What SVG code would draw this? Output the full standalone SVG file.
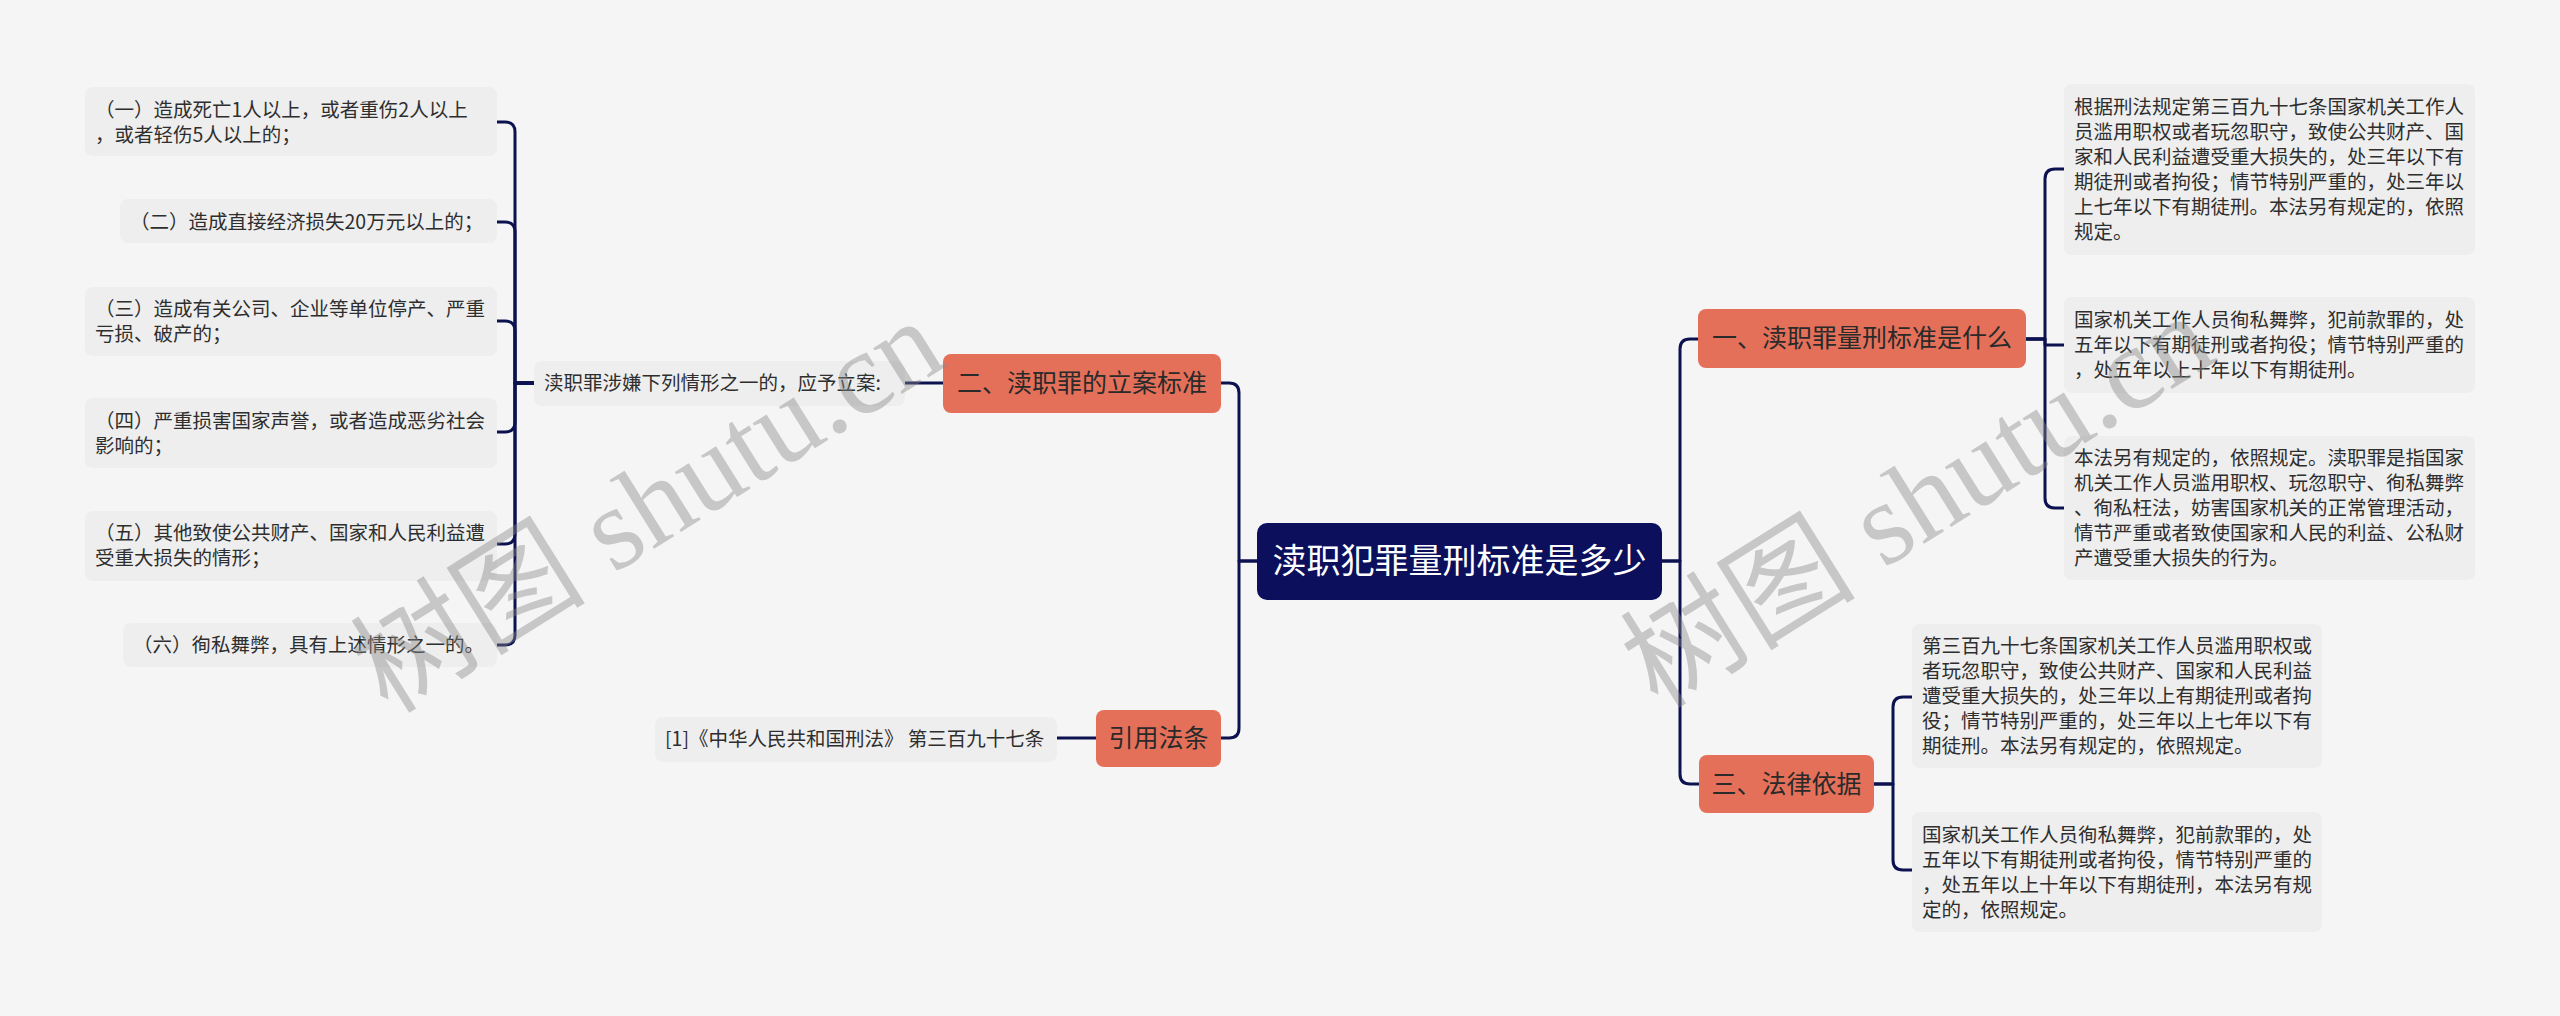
<svg xmlns="http://www.w3.org/2000/svg" width="2560" height="1016" viewBox="0 0 2560 1016">
<defs>
<style>
.bg{fill:#f5f5f5}
.leaf{fill:#eeeeee}
.lt{font-family:"Noto Sans CJK SC","Noto Sans",sans-serif;font-size:19.5px;fill:#2e2e2e}
.org{fill:#e5705a}
.ot{font-family:"Noto Sans CJK SC","Noto Sans",sans-serif;font-size:25px;fill:#2a2a2a;text-anchor:middle}
.root{fill:#0b0f5c}
.rt{font-family:"Noto Sans CJK SC","Noto Sans",sans-serif;font-size:34px;fill:#ffffff;text-anchor:middle}
.cn{fill:none;stroke:#0c1250;stroke-width:3;stroke-linejoin:round}
.wm{font-family:"Liberation Serif","Noto Sans CJK SC",serif;font-size:118px;fill:#888888;opacity:0.42}
</style>
</defs>
<rect class="bg" x="0" y="0" width="2560" height="1016"/>

<g id="connectors">
<path class="cn" d="M534,383 H515 V132 Q515,122 505,122 H497"/>
<path class="cn" d="M534,383 H515 V232 Q515,222 505,222 H497"/>
<path class="cn" d="M534,383 H515 V331 Q515,321 505,321 H497"/>
<path class="cn" d="M534,383 H515 V422 Q515,432 505,432 H497"/>
<path class="cn" d="M534,383 H515 V534 Q515,544 505,544 H497"/>
<path class="cn" d="M534,383 H515 V635 Q515,645 505,645 H497"/>
<path class="cn" d="M943,383 H905"/>
<path class="cn" d="M1257,561 H1239 V393 Q1239,383 1229,383 H1221"/>
<path class="cn" d="M1257,561 H1239 V728 Q1239,738 1229,738 H1221"/>
<path class="cn" d="M1096,738 H1057"/>
<path class="cn" d="M1662,561 H1680 V349 Q1680,339 1690,339 H1698"/>
<path class="cn" d="M1662,561 H1680 V774 Q1680,784 1690,784 H1699"/>
<path class="cn" d="M2026,339 H2045 V179 Q2045,169 2055,169 H2064"/>
<path class="cn" d="M2026,339 H2045 V345 H2064"/>
<path class="cn" d="M2026,339 H2045 V498 Q2045,508 2055,508 H2064"/>
<path class="cn" d="M1874,784 H1893 V707 Q1893,697 1903,697 H1912"/>
<path class="cn" d="M1874,784 H1893 V860 Q1893,870 1903,870 H1912"/>
</g>

<g id="root">
<rect class="root" x="1257" y="523" width="405" height="77" rx="10"/>
<text class="rt" x="1459.5" y="573">渎职犯罪量刑标准是多少</text>
</g>

<g id="n2">
<rect class="org" x="943" y="354" width="278" height="59" rx="8"/>
<text class="ot" x="1082" y="392">二、渎职罪的立案标准</text>
</g>
<g id="n2-intro">
<rect class="leaf" x="534" y="361" width="371" height="45" rx="8"/>
<text class="lt" x="544" y="390">渎职罪涉嫌下列情形之一的，应予立案:</text>
</g>
<g id="n2-1">
<rect class="leaf" x="85" y="87" width="412" height="69" rx="8"/>
<text class="lt" x="95" y="117">（一）造成死亡1人以上，或者重伤2人以上</text>
<text class="lt" x="95" y="142">，或者轻伤5人以上的；</text>
</g>
<g id="n2-2">
<rect class="leaf" x="120" y="199" width="377" height="44" rx="8"/>
<text class="lt" x="130" y="229">（二）造成直接经济损失20万元以上的；</text>
</g>
<g id="n2-3">
<rect class="leaf" x="85" y="287" width="412" height="69" rx="8"/>
<text class="lt" x="95" y="316">（三）造成有关公司、企业等单位停产、严重</text>
<text class="lt" x="95" y="341">亏损、破产的；</text>
</g>
<g id="n2-4">
<rect class="leaf" x="85" y="398" width="412" height="70" rx="8"/>
<text class="lt" x="95" y="428">（四）严重损害国家声誉，或者造成恶劣社会</text>
<text class="lt" x="95" y="453">影响的；</text>
</g>
<g id="n2-5">
<rect class="leaf" x="85" y="511" width="412" height="70" rx="8"/>
<text class="lt" x="95" y="540">（五）其他致使公共财产、国家和人民利益遭</text>
<text class="lt" x="95" y="565">受重大损失的情形；</text>
</g>
<g id="n2-6">
<rect class="leaf" x="123" y="623" width="374" height="44" rx="8"/>
<text class="lt" x="133" y="652">（六）徇私舞弊，具有上述情形之一的。</text>
</g>

<g id="n4">
<rect class="org" x="1096" y="710" width="125" height="57" rx="8"/>
<text class="ot" x="1158.5" y="747">引用法条</text>
</g>
<g id="n4-1">
<rect class="leaf" x="655" y="717" width="402" height="45" rx="8"/>
<text class="lt" x="665" y="746">[1]《中华人民共和国刑法》 第三百九十七条</text>
</g>

<g id="n1">
<rect class="org" x="1698" y="309" width="328" height="59" rx="8"/>
<text class="ot" x="1862" y="347">一、渎职罪量刑标准是什么</text>
</g>
<g id="n1-1">
<rect class="leaf" x="2064" y="84" width="411" height="171" rx="8"/>
<text class="lt" x="2074" y="114">根据刑法规定第三百九十七条国家机关工作人</text>
<text class="lt" x="2074" y="139">员滥用职权或者玩忽职守，致使公共财产、国</text>
<text class="lt" x="2074" y="164">家和人民利益遭受重大损失的，处三年以下有</text>
<text class="lt" x="2074" y="189">期徒刑或者拘役；情节特别严重的，处三年以</text>
<text class="lt" x="2074" y="214">上七年以下有期徒刑。本法另有规定的，依照</text>
<text class="lt" x="2074" y="239">规定。</text>
</g>
<g id="n1-2">
<rect class="leaf" x="2064" y="297" width="411" height="96" rx="8"/>
<text class="lt" x="2074" y="327">国家机关工作人员徇私舞弊，犯前款罪的，处</text>
<text class="lt" x="2074" y="352">五年以下有期徒刑或者拘役；情节特别严重的</text>
<text class="lt" x="2074" y="377">，处五年以上十年以下有期徒刑。</text>
</g>
<g id="n1-3">
<rect class="leaf" x="2064" y="436" width="411" height="144" rx="8"/>
<text class="lt" x="2074" y="465">本法另有规定的，依照规定。渎职罪是指国家</text>
<text class="lt" x="2074" y="490">机关工作人员滥用职权、玩忽职守、徇私舞弊</text>
<text class="lt" x="2074" y="515">、徇私枉法，妨害国家机关的正常管理活动，</text>
<text class="lt" x="2074" y="540">情节严重或者致使国家和人民的利益、公私财</text>
<text class="lt" x="2074" y="565">产遭受重大损失的行为。</text>
</g>

<g id="n3">
<rect class="org" x="1699" y="755" width="175" height="58" rx="8"/>
<text class="ot" x="1786.5" y="793">三、法律依据</text>
</g>
<g id="n3-1">
<rect class="leaf" x="1912" y="624" width="410" height="144" rx="8"/>
<text class="lt" x="1922" y="653">第三百九十七条国家机关工作人员滥用职权或</text>
<text class="lt" x="1922" y="678">者玩忽职守，致使公共财产、国家和人民利益</text>
<text class="lt" x="1922" y="703">遭受重大损失的，处三年以上有期徒刑或者拘</text>
<text class="lt" x="1922" y="728">役；情节特别严重的，处三年以上七年以下有</text>
<text class="lt" x="1922" y="753">期徒刑。本法另有规定的，依照规定。</text>
</g>
<g id="n3-2">
<rect class="leaf" x="1912" y="812" width="410" height="120" rx="8"/>
<text class="lt" x="1922" y="842">国家机关工作人员徇私舞弊，犯前款罪的，处</text>
<text class="lt" x="1922" y="867">五年以下有期徒刑或者拘役，情节特别严重的</text>
<text class="lt" x="1922" y="892">，处五年以上十年以下有期徒刑，本法另有规</text>
<text class="lt" x="1922" y="917">定的，依照规定。</text>
</g>

<g id="watermark">
<text class="wm" transform="translate(388,715) rotate(-32)">树图 shutu.cn</text>
<text class="wm" transform="translate(1658,710) rotate(-32)">树图 shutu.cn</text>
</g>
</svg>
